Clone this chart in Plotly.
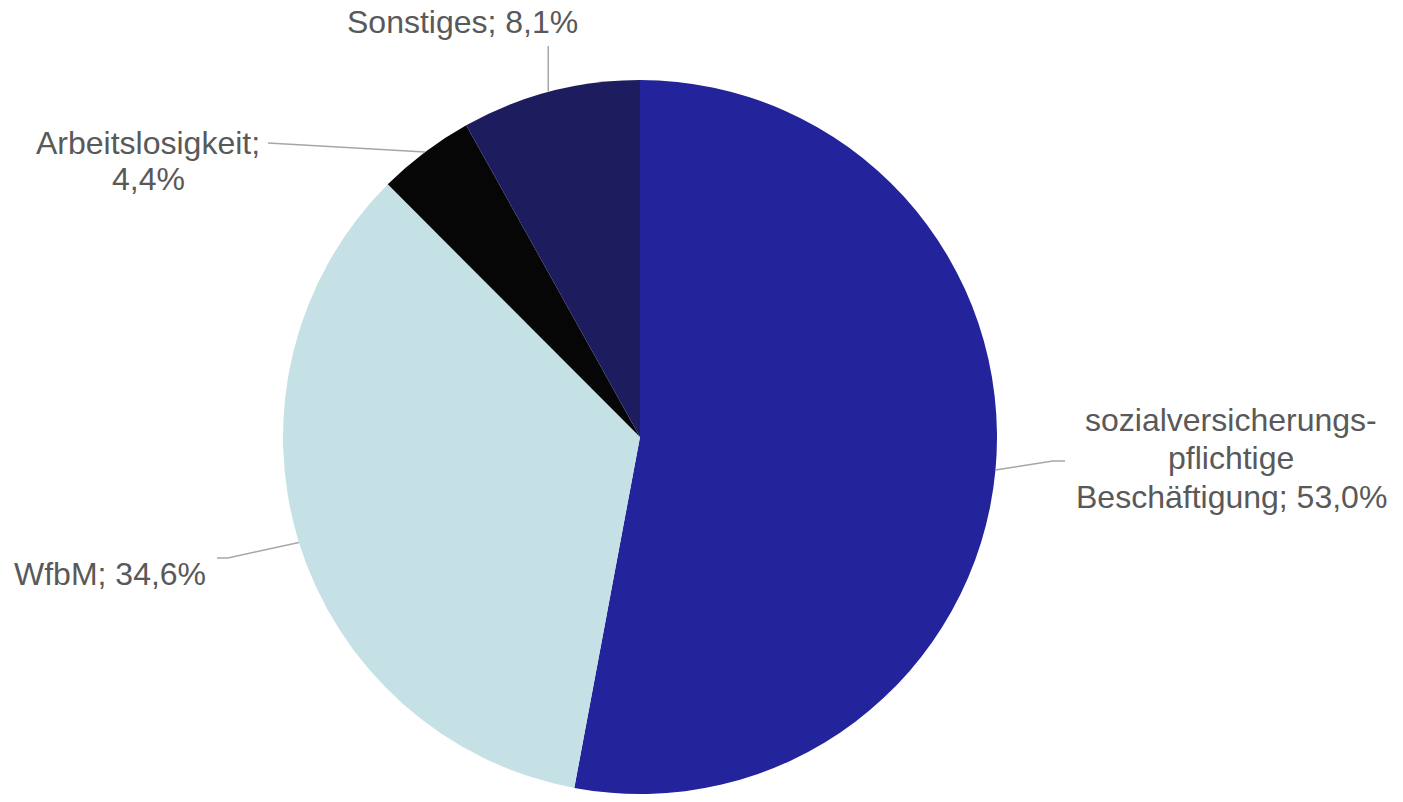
import math
import plotly.graph_objects as go

# ---- data ----
categories = ["sozialversicherungspflichtige Beschäftigung", "WfbM", "Arbeitslosigkeit", "Sonstiges"]
label_lines = [
    ["sozialversicherungs-", "pflichtige", "Beschäftigung"],
    ["WfbM"],
    ["Arbeitslosigkeit;"],
    ["Sonstiges"],
]
values = [53.0, 34.6, 4.4, 8.1]
colors = ["#23239c", "#c6e1e5", "#060606", "#1c1c5e"]

W, H = 1403, 802
CX, CY, R = 640, 437, 357  # pie centre / radius in pixels

def px(x):
    return x / W

def py(y):
    return 1 - y / H

fig = go.Figure(go.Pie(
    labels=categories,
    values=values,
    sort=False,
    direction="clockwise",
    rotation=0,
    textinfo="none",
    hoverinfo="label+percent",
    marker=dict(colors=colors, line=dict(width=0)),
    showlegend=False,
    domain=dict(x=[px(CX - R), px(CX + R)], y=[py(CY + R), py(CY - R)]),
))

def fmt(v):
    return f"{v:.1f}%".replace(".", ",")

# edge points from data (mid-angle of each slice)
total = sum(values)
edges = []
cum = 0
for v in values:
    mid = (cum + v / 2) / total * 2 * math.pi
    edges.append((CX + R * math.sin(mid), CY - R * math.cos(mid)))
    cum += v

font = dict(family="Liberation Sans, Arial, sans-serif", size=32, color="#595959")
line_style = dict(color="#a6a6a6", width=1.5)
annotations = []
shapes = []

def add_text(lines, cx, y0, spacing=38.5):
    for i, t in enumerate(lines):
        annotations.append(dict(
            x=px(cx), y=py(y0 + i * spacing), xref="paper", yref="paper",
            text=t, showarrow=False, font=font, xanchor="center", yanchor="middle",
        ))

def add_path(points):
    d = "M " + " L ".join(f"{px(x)},{py(y)}" for x, y in points)
    shapes.append(dict(type="path", path=d, xref="paper", yref="paper", line=line_style))

# sozialversicherungspflichtige
l = label_lines[0][:]
l[-1] = l[-1] + "; " + fmt(values[0])
add_text(l, 1231, 420)
ex, ey = edges[0]
add_path([(ex, ey), (1053, 461), (1065, 461)])

# WfbM
add_text([label_lines[1][0] + "; " + fmt(values[1])], 110, 574)
ex, ey = edges[1]
add_path([(217, 558), (228, 558), (ex, ey)])

# Arbeitslosigkeit
add_text([label_lines[2][0], fmt(values[2])], 148, 143, spacing=36)
ex, ey = edges[2]
add_path([(268, 143), (ex, ey)])

# Sonstiges
add_text([label_lines[3][0] + "; " + fmt(values[3])], 462, 22)
ex, ey = edges[3]
add_path([(ex - 2, 46), (ex - 2, ey)])

fig.update_layout(
    width=W, height=H,
    margin=dict(l=0, r=0, t=0, b=0),
    paper_bgcolor="white", plot_bgcolor="white",
    annotations=annotations, shapes=shapes,
)

fig.write_html("out.html")
